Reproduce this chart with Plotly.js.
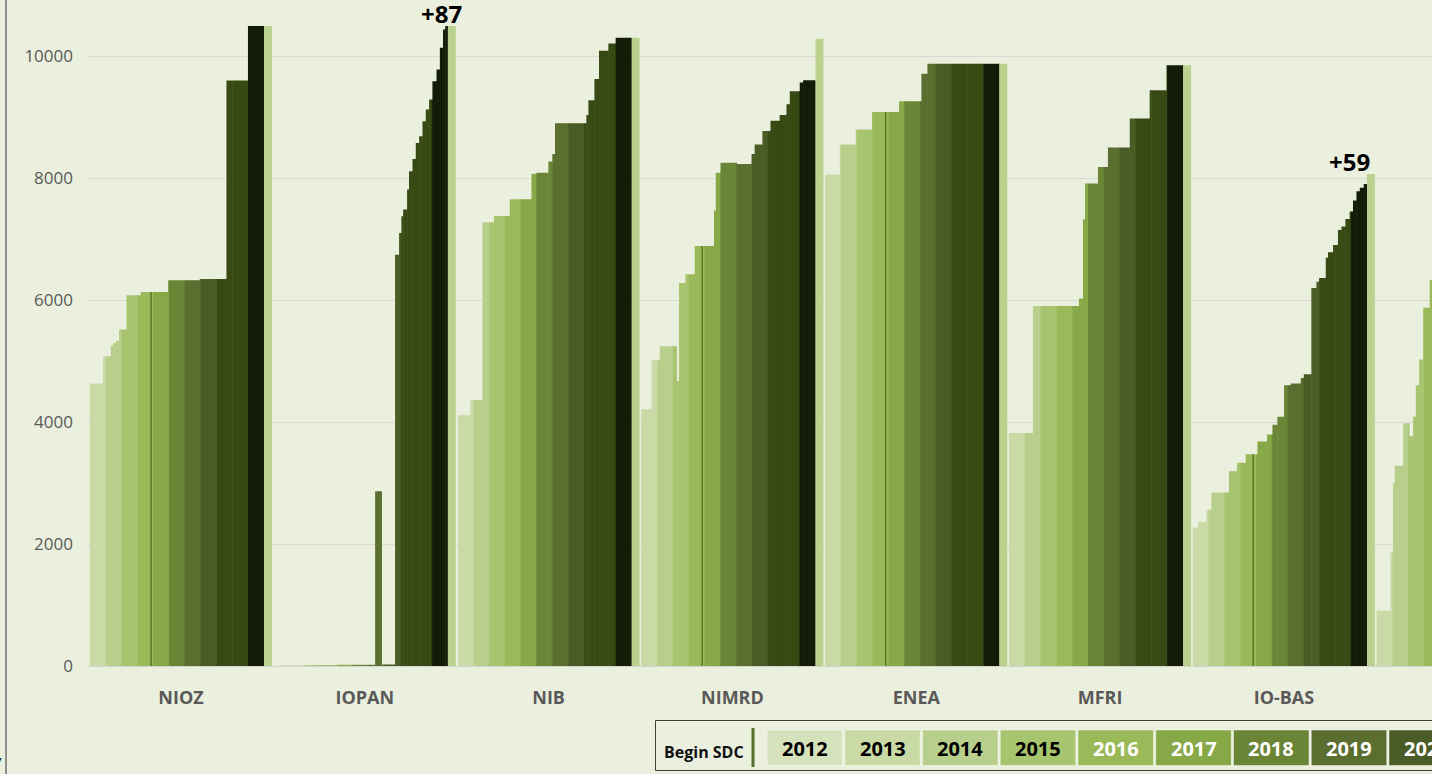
<!DOCTYPE html>
<html>
<head>
<meta charset="utf-8">
<script src="https://cdn.plot.ly/plotly-3.0.1.min.js"></script>
<style>
  html, body { margin: 0; padding: 0; background: #ebf0de; }
  #chart { width: 1432px; height: 774px; }
</style>
</head>
<body>
<div id="chart"></div>
<script>
// ---------------- DATA ----------------
// Institutions (the 8th is cut off at the right edge of the picture)
const institutions = ['NIOZ', 'IOPAN', 'NIB', 'NIMRD', 'ENEA', 'MFRI', 'IO-BAS', ''];

// Step charts: start of each step (years since start of record) and its value
const niozT  = [0, 0.84, 1.33, 1.47, 1.64, 1.85, 2.32, 3.22, 4.95, 6.95, 8.64, 10.0];
const niozV  = [4634, 5080, 5257, 5300, 5330, 5519, 6082, 6137, 6328, 6350, 9606, 10500];

const iopanT = [0.27, 2.0, 4.0, 6.42, 6.82, 7.68, 7.93, 8.08, 8.19, 8.44, 8.56, 8.78, 8.99, 9.20, 9.41, 9.62, 9.83, 10.04, 10.30, 10.51, 10.71, 10.85];
const iopanV = [10, 15, 20, 2869, 25, 6749, 7105, 7378, 7488, 7816, 8117, 8320, 8582, 8691, 8938, 9130, 9294, 9594, 9787, 10143, 10443, 10587];

const nibT   = [0.04, 0.82, 1.58, 2.31, 3.31, 4.68, 5.01, 5.75, 6.00, 6.17, 8.15, 8.28, 8.66, 8.95, 9.54, 10.0];
const nibV   = [4114, 4363, 7281, 7381, 7658, 8078, 8093, 8278, 8399, 8904, 9039, 9281, 9630, 10093, 10214, 10306];

const nimrdT = [0, 0.66, 1.17, 2.23, 2.39, 2.79, 3.38, 4.60, 4.71, 5.01, 6.02, 6.97, 7.17, 7.66, 8.17, 8.75, 9.18, 9.39, 10.02, 10.23];
const nimrdV = [4213, 5018, 5246, 4676, 6285, 6427, 6890, 7473, 8093, 8256, 8235, 8399, 8555, 8776, 8947, 9039, 9217, 9431, 9573, 9609];

const eneaT  = [0, 0.93, 1.94, 2.97, 4.68, 6.09, 6.47];
const eneaV  = [8064, 8555, 8804, 9089, 9267, 9715, 9879];

const mfriT  = [0, 1.52, 4.43, 4.68, 4.81, 5.63, 6.26, 7.64, 8.90, 9.96];
const mfriV  = [3822, 5907, 6028, 7331, 7915, 8185, 8505, 8982, 9445, 9858];

const iobasT = [0, 0.34, 0.87, 1.18, 2.29, 2.80, 3.35, 4.09, 4.70, 5.04, 5.35, 5.77, 6.19, 6.83, 7.02, 7.50, 7.82, 7.98, 8.41, 8.55, 8.87, 9.18, 9.40, 9.65, 9.92, 10.13, 10.35, 10.56, 10.81];
const iobasV = [2273, 2364, 2564, 2848, 3194, 3333, 3473, 3685, 3800, 3958, 4091, 4606, 4636, 4727, 4788, 6200, 6303, 6364, 6697, 6788, 6909, 7152, 7212, 7333, 7455, 7636, 7788, 7848, 7909];

const lastT  = [0, 0.88, 1.04, 1.15, 1.68, 2.05, 2.31, 2.48, 2.69, 2.94, 3.36];
const lastV  = [909, 1867, 3000, 3285, 3982, 3770, 4091, 4606, 5030, 5879, 6333];

// End of each record (years since start), total bar, begin-SDC date, top labels
const recordEnd = [11, 11, 11, 11, 11, 11, 11, 3.6];
const totals    = [10500, 10587, 10306, 10290, 9879, 9858, 8073, null];
const sdcStart  = [3.86, null, null, 3.84, 3.82, null, 3.81, null];
const topLabels = ['', '+87', '', '', '', '', '+59', ''];
const topLabelT = [null, 10.63, null, null, null, null, 9.92, null];

// Years and colours (legend shows the years that fit in the picture)
const years      = [2012, 2013, 2014, 2015, 2016, 2017, 2018, 2019, 2020, 2021, 2022, 2023];
const yearColors = ['#d5e2bc', '#c9daa6', '#b8cf8c', '#a7c46f', '#9aba5a', '#87a846', '#6b8536', '#5a6e2f', '#4a5c26', '#384a14', '#384a14', '#141c08'];
const yearTextColors = ['#000', '#000', '#000', '#000', '#fff', '#fff', '#fff', '#fff', '#fff', '#fff', '#fff', '#fff'];
const legendYears = [2012, 2013, 2014, 2015, 2016, 2017, 2018, 2019, 2020];
const recordStartYear = 2013;
const totalColor = '#bad18e';
const sdcColor = '#4e7522';

// ---------------- BUILD ----------------
const stepsT = [niozT, iopanT, nibT, nimrdT, eneaT, mfriT, iobasT, lastT];
const stepsV = [niozV, iopanV, nibV, nimrdV, eneaV, mfriV, iobasV, lastV];
const GROUP = 11.62;      // spacing of the institution groups, in years
const TOTAL_W = 0.5;      // width of the total bar

const bx = [], by = [], bw = [], bc = [];
stepsT.forEach((T, i) => {
  const g0 = i * GROUP;
  const V = stepsV[i];
  for (let j = 0; j < T.length; j++) {
    const s = T[j];
    const e = j + 1 < T.length ? T[j + 1] : recordEnd[i];
    let a = s;
    while (a < e - 1e-9) {
      const k = Math.floor(a + 1e-9);
      const b = Math.min(e, k + 1);
      bx.push(g0 + (a + b) / 2);
      bw.push(b - a + 0.03);
      by.push(V[j]);
      bc.push(yearColors[years.indexOf(recordStartYear + k)]);
      a = b;
    }
  }
});

function valueAt(i, t) {
  const T = stepsT[i], V = stepsV[i];
  let v = 0;
  for (let j = 0; j < T.length; j++) if (T[j] <= t) v = V[j];
  return v;
}

const tx = [], ty = [];
totals.forEach((v, i) => { if (v !== null) { tx.push(i * GROUP + 11 + TOTAL_W / 2); ty.push(v); } });

const sx = [], sy = [];
sdcStart.forEach((t, i) => { if (t !== null) { sx.push(i * GROUP + t); sy.push(valueAt(i, t)); } });

const traces = [
  { type: 'bar', x: bx, y: by, width: bw, marker: { color: bc, line: { width: 0 } }, hoverinfo: 'y' },
  { type: 'bar', x: tx, y: ty, width: TOTAL_W, marker: { color: totalColor, line: { width: 0 } }, hoverinfo: 'y' },
  { type: 'bar', x: sx, y: sy, width: 0.09, marker: { color: sdcColor, line: { width: 0 } }, hoverinfo: 'y' }
];

// pixel helpers for the legend block (plot area: x 88..1432, y 26..666)
const L = 88, W = 1344, B = 666, H = 640;
const px = p => (p - L) / W;
const py = p => (B - p) / H;

const shapes = [
  // outer frame line at the left edge
  { type: 'line', xref: 'paper', yref: 'paper', x0: px(6), x1: px(6), y0: py(0), y1: py(774), line: { color: '#8f8f8f', width: 2 } },
  // legend frame
  { type: 'rect', xref: 'paper', yref: 'paper', x0: px(655.5), x1: px(1460), y0: py(770.5), y1: py(720.5), line: { color: '#3f3f3f', width: 1 }, fillcolor: 'rgba(0,0,0,0)' },
  // begin SDC marker in legend
  { type: 'rect', xref: 'paper', yref: 'paper', x0: px(751.5), x1: px(754.5), y0: py(767), y1: py(728), line: { width: 0 }, fillcolor: '#55702d' }
];
const annotations = [
  { xref: 'paper', yref: 'paper', x: px(704), y: py(752), text: 'Begin SDC', showarrow: false, xanchor: 'center', yanchor: 'middle',
    font: { family: 'Open Sans', size: 16, color: '#111', weight: 'bold' } },
  { xref: 'paper', yref: 'paper', x: px(4), y: py(760), text: 'y', showarrow: false, xanchor: 'right', yanchor: 'middle',
    font: { family: 'Open Sans', size: 13, color: '#111', weight: 'bold' } }
];
const BOX0 = 767, PITCH = 77.75, BOXW = 75.5;
legendYears.forEach((yr, k) => {
  const x0 = BOX0 + k * PITCH;
  const ci = years.indexOf(yr);
  shapes.push({ type: 'rect', xref: 'paper', yref: 'paper', x0: px(x0), x1: px(x0 + BOXW), y0: py(765.5), y1: py(730),
    line: { color: 'rgba(255,255,255,0.45)', width: 1 }, fillcolor: yearColors[ci] });
  annotations.push({ xref: 'paper', yref: 'paper', x: px(x0 + BOXW / 2), y: py(748), text: String(yr), showarrow: false,
    xanchor: 'center', yanchor: 'middle', font: { family: 'Open Sans', size: 20, color: yearTextColors[ci], weight: 'bold' } });
});
topLabels.forEach((lab, i) => {
  if (!lab) return;
  annotations.push({ xref: 'x', yref: 'y', x: i * GROUP + topLabelT[i], y: Math.min(totals[i], 10500), text: lab, showarrow: false,
    xanchor: 'center', yanchor: 'bottom', yshift: -6, font: { family: 'Open Sans', size: 24, color: '#000', weight: 'bold' } });
});

const layout = {
  width: 1432, height: 774,
  margin: { l: L, r: 0, t: 26, b: 108, pad: 0 },
  paper_bgcolor: '#ebf0de', plot_bgcolor: '#ebf0de',
  barmode: 'overlay', showlegend: false,
  xaxis: {
    range: [-0.126, 84.83],
    tickvals: institutions.map((n, i) => i * GROUP + 5.75),
    ticktext: institutions,
    showgrid: false, zeroline: false, showline: false, ticks: '',
    ticklabelstandoff: 19,
    tickfont: { family: 'Open Sans', size: 18, color: '#595959', weight: 'bold' },
    fixedrange: true
  },
  yaxis: {
    range: [0, 10500],
    tickvals: [0, 2000, 4000, 6000, 8000, 10000],
    ticktext: ['0', '2000', '4000', '6000', '8000', '10000'],
    showgrid: true, gridcolor: '#d9d9d9', gridwidth: 1,
    zeroline: true, zerolinecolor: '#d2d2d2', zerolinewidth: 1,
    showline: false, ticks: '',
    ticklabelstandoff: 14,
    tickfont: { family: 'Open Sans', size: 17, color: '#595959' },
    fixedrange: true
  },
  shapes: shapes,
  annotations: annotations
};

Plotly.newPlot('chart', traces, layout, { displayModeBar: false, staticPlot: true });
</script>
</body>
</html>
